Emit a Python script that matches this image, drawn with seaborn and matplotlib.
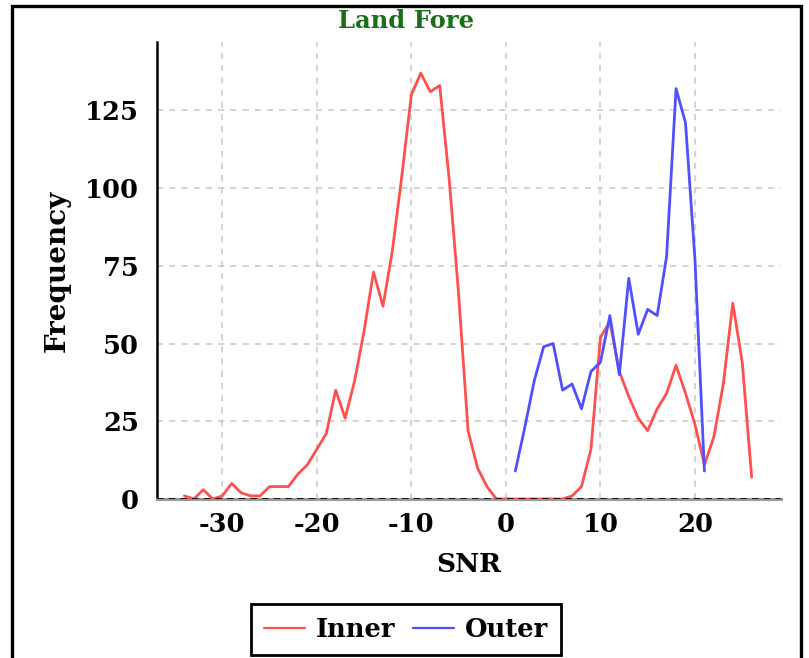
import numpy as np
import pandas as pd
import seaborn as sns
import matplotlib
matplotlib.use("Agg")
import matplotlib.pyplot as plt
from matplotlib.patches import Rectangle

# SNR histogram counts for the two regions
inner_snr = list(range(-34, 27))
inner_freq = [1, 0, 3, 0, 1, 5, 2, 1, 1, 4, 4, 4, 8, 11, 16, 21, 35, 26, 38, 54,
              73, 62, 80, 104, 130, 137, 131, 133, 103, 66, 22, 10, 4, 0,
              0, 0, 0, 0, 0, 0, 0, 1, 4, 16, 52, 57, 41, 33, 26, 22, 29, 34,
              43, 34, 24, 11, 20, 37, 63, 44, 7]
outer_snr = list(range(1, 22))
outer_freq = [9, 23, 38, 49, 50, 35, 37, 29, 41, 44, 59, 40, 71, 53, 61, 59, 78,
              132, 121, 77, 9]

series_names = ["Inner", "Outer"]
series_colors = ["#ff5050", "#5050ff"]
x_ticks = [-30, -20, -10, 0, 10, 20]
y_ticks = [0, 25, 50, 75, 100, 125]

df = pd.concat([
    pd.DataFrame({"SNR": inner_snr, "Frequency": inner_freq, "Region": series_names[0]}),
    pd.DataFrame({"SNR": outer_snr, "Frequency": outer_freq, "Region": series_names[1]}),
], ignore_index=True)

sns.set_theme(style="white")
plt.rcParams["font.family"] = ["DejaVu Serif"]
plt.rcParams["font.weight"] = "bold"
plt.rcParams["axes.unicode_minus"] = False
plt.rcParams["text.color"] = "black"
plt.rcParams["axes.labelcolor"] = "black"
plt.rcParams["xtick.color"] = "black"
plt.rcParams["ytick.color"] = "black"

fig = plt.figure(figsize=(8.09, 6.58), dpi=100)
ax = fig.add_axes([157 / 809, 1 - 499 / 658, (781 - 157) / 809, (499 - 42) / 658])

sns.lineplot(data=df, x="SNR", y="Frequency", hue="Region",
             palette=dict(zip(series_names, series_colors)),
             linewidth=2.0, ax=ax, legend=True, zorder=3)

ax.set_xlim(-36.9, 29.1)
ax.set_ylim(0, 147)
ax.set_xticks(x_ticks)
ax.set_yticks(y_ticks)
ax.grid(True, color="#c8c8c8", linestyle=(0, (4, 4)), linewidth=1.1)
ax.set_axisbelow(True)

for side in ("top", "right"):
    ax.spines[side].set_visible(False)
ax.spines["left"].set_color("black")
ax.spines["left"].set_linewidth(1.8)
ax.spines["bottom"].set_color("#9a9a9a")
ax.spines["bottom"].set_linewidth(2.2)
ax.axhline(0, color="black", linestyle=(0, (4, 3)), linewidth=1.2, zorder=4)

ax.tick_params(axis="both", direction="out", length=5, width=1.8, color="black",
               labelcolor="black", labelsize=18.5)
ax.tick_params(axis="x", pad=4)
ax.tick_params(axis="y", pad=8)
for lab in ax.get_xticklabels() + ax.get_yticklabels():
    lab.set_fontweight("bold")

ax.set_xlabel("SNR", fontsize=19, fontweight="bold", labelpad=11, color="black")
ax.set_ylabel("Frequency", fontsize=20, fontweight="bold", labelpad=10, color="black")

leg = ax.legend(loc="upper center", bbox_to_anchor=(406 / 809, 1 - 604 / 658),
                bbox_transform=fig.transFigure, ncol=2, frameon=True, fancybox=False,
                framealpha=1.0, borderaxespad=0.0,
                fontsize=18.5, handlelength=1.6, columnspacing=0.7,
                handletextpad=0.42, borderpad=0.5)
leg.get_frame().set_edgecolor("black")
leg.get_frame().set_linewidth(2.0)
for t in leg.get_texts():
    t.set_fontweight("bold")
    t.set_color("black")
for h in leg.get_lines():
    h.set_linewidth(1.6)

fig.suptitle("Land Fore", x=406 / 809, y=1 - 21 / 658, va="center",
             fontsize=17.5, fontweight="bold", color="#1a6e1a")

# outer frame around the figure
fig.patches.append(Rectangle((12 / 809, -0.05), (801 - 12) / 809, 1.05 - 5.5 / 658,
                             transform=fig.transFigure, fill=False,
                             edgecolor="black", linewidth=2.4, zorder=10))

fig.savefig("out.png", dpi=100)
